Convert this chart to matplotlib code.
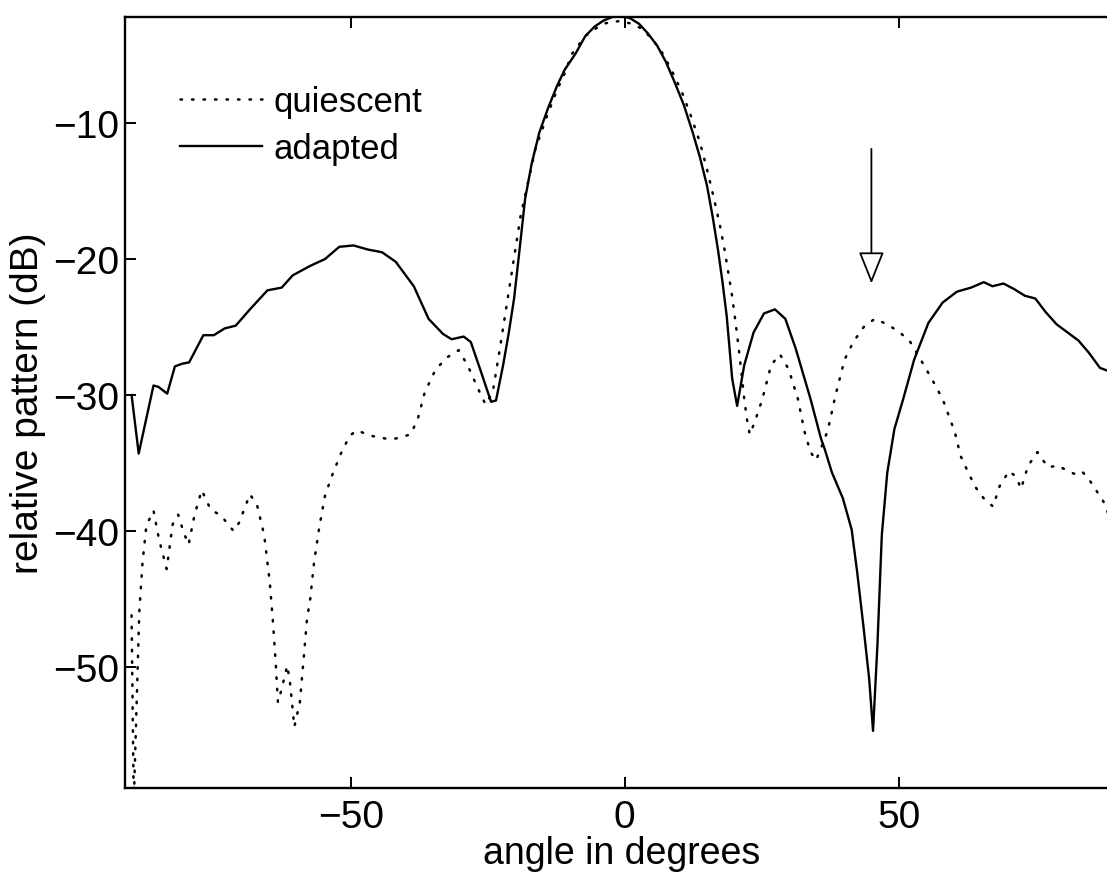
import matplotlib
matplotlib.use("Agg")
import matplotlib.pyplot as plt

# ---- data ----
adapted_angle = [-90.0, -88.7, -86.0, -85.1, -83.5, -82.1, -80.8, -79.5, -76.9, -75.0,
                 -73.0, -71.0, -68.4, -65.2, -62.6, -60.6, -57.4, -54.7, -52.1, -49.5,
                 -46.9, -44.3, -41.8, -38.5, -35.8, -33.2, -31.6, -29.4, -28.1, -26.4,
                 -24.4, -23.5, -22.2, -21.2, -20.2, -19.2, -18.2, -17.0, -15.6, -14.0,
                 -12.4, -11.0, -9.0, -7.2, -5.5, -3.9, -2.3, -0.65, 1.0, 2.6,
                 4.2, 5.9, 7.5, 9.1, 10.8, 12.4, 13.7, 15.0, 16.0, 17.0,
                 17.8, 18.6, 19.1, 19.6, 20.5,
                 21.8, 23.5, 25.4, 27.4, 29.3, 31.2, 33.9, 35.8, 36.5, 37.8,
                 39.8, 41.4, 42.4, 43.6, 44.6, 45.3, 46.1, 46.9, 47.9, 49.2,
                 50.8, 52.8, 55.4, 58.0, 60.6, 63.2, 65.5, 67.1, 69.1, 71.0,
                 73.0, 74.9, 76.8, 78.8, 80.8, 82.8, 84.7, 86.7, 88.0, 90.0]
adapted_db = [-30.0, -34.3, -29.3, -29.4, -29.9, -27.9, -27.7, -27.6, -25.6, -25.6,
              -25.1, -24.9, -23.7, -22.3, -22.1, -21.2, -20.5, -20.0, -19.1, -19.0,
              -19.3, -19.5, -20.2, -22.0, -24.4, -25.5, -25.9, -25.7, -26.1, -28.1,
              -30.5, -30.4, -27.8, -25.5, -22.9, -19.3, -15.6, -13.0, -10.7, -8.9,
              -7.3, -6.1, -4.9, -3.6, -2.9, -2.47, -2.2, -2.1, -2.3, -2.7,
              -3.4, -4.3, -5.5, -7.0, -8.7, -10.7, -12.5, -14.6, -16.8, -19.3,
              -21.6, -24.2, -26.5, -28.8, -30.8,
              -27.8, -25.4, -24.0, -23.7, -24.4, -26.6, -30.3, -33.2, -34.0, -35.7,
              -37.6, -39.9, -43.0, -47.2, -50.9, -54.7, -48.4, -40.3, -35.7, -32.5,
              -30.3, -27.4, -24.7, -23.2, -22.4, -22.1, -21.7, -22.0, -21.8, -22.2,
              -22.7, -22.9, -23.9, -24.8, -25.4, -26.0, -26.9, -28.0, -28.2, -28.6]

quiescent_angle = [-90.0, -89.6, -88.6, -88.0, -87.3, -86.0, -85.0, -83.6, -82.5, -81.5,
                   -80.5, -79.6, -78.5, -77.2, -75.6, -73.6, -71.4, -70.4, -68.4, -67.1,
                   -65.8, -64.8, -64.2, -63.7, -63.3, -62.6, -61.6, -61.1, -60.3, -59.3,
                   -58.6, -58.0, -57.4, -56.7, -55.7, -54.7, -53.4, -51.8, -50.2, -48.9,
                   -46.3, -43.7, -41.8, -39.1, -37.8, -36.5, -34.5, -32.3, -30.3, -28.7,
                   -26.7, -25.4, -24.1, -22.8, -20.9, -19.0, -16.3, -14.3, -12.4, -10.8,
                   -9.8, -7.2, -5.5, -3.9, -2.3, -0.7, 1.3, 3.3, 4.9, 6.5,
                   8.4, 10.4, 12.0, 13.7, 15.0, 16.3, 17.3, 18.2, 19.5, 20.2,
                   20.8, 21.3, 21.8, 22.3, 22.8, 23.7, 25.1, 26.7, 28.3, 29.9,
                   31.6, 32.8, 33.9,
                   34.9, 36.5, 37.1, 38.4, 40.1, 41.7, 43.6, 45.6, 47.9, 50.2,
                   52.1, 54.0, 56.0, 58.0, 60.2, 61.3, 62.9, 64.2, 65.5, 67.2,
                   68.4, 70.1, 71.4, 72.3, 73.6, 75.3, 77.2, 79.2, 80.8, 82.1,
                   83.4, 84.7, 86.0, 87.3, 88.3, 90.0]
quiescent_db = [-46.2, -60.0, -46.0, -42.3, -39.6, -38.5, -40.6, -42.8, -39.5, -38.8,
                -40.1, -41.0, -38.8, -37.0, -38.4, -38.9, -40.0, -39.4, -37.3, -38.1,
                -40.3, -43.7, -46.7, -49.7, -52.6, -51.6, -49.9, -51.1, -54.4, -52.6,
                -49.4, -46.5, -45.0, -42.3, -39.6, -37.4, -35.9, -34.3, -33.0, -32.6,
                -33.0, -33.2, -33.2, -32.9, -31.8, -29.8, -28.1, -27.2, -26.7, -27.8,
                -29.6, -30.7, -29.8, -26.6, -21.7, -16.8, -11.9, -9.6, -7.6, -6.2,
                -5.0, -3.6, -3.1, -2.7, -2.55, -2.5, -2.7, -3.1, -3.8, -4.6,
                -6.0, -7.7, -9.4, -11.4, -13.4, -15.6, -17.4, -19.3, -22.5, -24.6,
                -26.6, -28.4, -30.3, -31.8, -32.9, -32.0, -30.3, -27.8, -27.0, -28.1,
                -30.3, -32.7, -34.2,
                -34.8, -33.2, -32.5, -30.1, -27.4, -26.1, -25.0, -24.4, -24.8, -25.4,
                -26.1, -27.4, -28.8, -30.3, -32.7, -34.5, -35.9, -36.9, -37.6, -38.2,
                -36.7, -35.6, -36.0, -36.9, -35.2, -34.2, -35.3, -35.2, -35.6, -35.8,
                -35.6, -36.2, -37.0, -37.8, -38.8, -39.6]

series_labels = ["quiescent", "adapted"]
x_ticks = [-50, 0, 50]
y_ticks = [-50, -40, -30, -20, -10]
jammer_angle = 45.0
arrow_top_db = -11.9
arrow_tip_db = -21.8

# ---- figure ----
plt.rcParams['font.family'] = ['Liberation Sans', 'DejaVu Sans']
fig = plt.figure(figsize=(11.07, 8.78), dpi=100)
ax = fig.add_axes([125 / 1107, 89 / 878, 993 / 1107, (789 - 18) / 878])

ax.plot(quiescent_angle, quiescent_db, color='black', lw=1.8,
        linestyle=(0, (0.6, 4.0)), dash_capstyle='round', label=series_labels[0])
ax.plot(adapted_angle, adapted_db, color='black', lw=1.7,
        linestyle='-', label=series_labels[1])

ax.annotate('', xy=(jammer_angle, arrow_tip_db), xytext=(jammer_angle, arrow_top_db),
            arrowprops=dict(arrowstyle='-|>,head_width=0.4,head_length=1.0',
                            mutation_scale=20, fc='white', ec='black', lw=1.3,
                            shrinkA=0, shrinkB=0))

ax.set_xlim(-91.2, 90)
ax.set_ylim(-58.9, -2.2)
ax.set_xticks(x_ticks)
ax.set_yticks(y_ticks)
ax.tick_params(direction='in', length=8, width=1.4, top=True, right=True,
               labelsize=28)
ax.tick_params(axis='x', pad=8)
ax.tick_params(axis='y', pad=4)
for s in ax.spines.values():
    s.set_linewidth(1.7)

ax.set_xlabel('angle in degrees', fontsize=27, labelpad=0)
ax.set_ylabel('relative pattern (dB)', fontsize=28, labelpad=5)

leg = ax.legend(loc='upper left', bbox_to_anchor=(0.0554, 0.912), frameon=False,
                fontsize=25, handlelength=2.35, handletextpad=0.35,
                labelspacing=0.42, borderpad=0, borderaxespad=0)

fig.savefig('out.png', dpi=100)
